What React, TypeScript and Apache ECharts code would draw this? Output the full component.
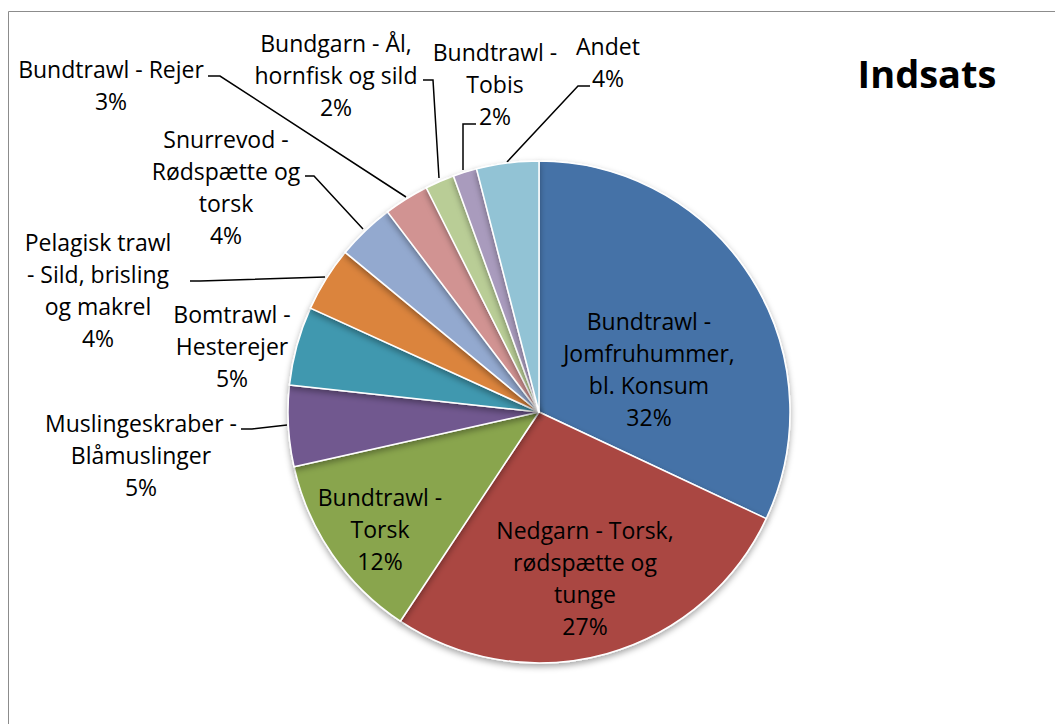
import React, { useEffect, useRef } from "react";
import * as echarts from "echarts";

const categories = [
  "Bundtrawl -\nJomfruhummer,\nbl. Konsum",
  "Nedgarn - Torsk,\nrødspætte og\ntunge",
  "Bundtrawl -\nTorsk",
  "Muslingeskraber -\nBlåmuslinger",
  "Bomtrawl -\nHesterejer",
  "Pelagisk trawl\n- Sild, brisling\nog makrel",
  "Snurrevod -\nRødspætte og\ntorsk",
  "Bundtrawl - Rejer",
  "Bundgarn - Ål,\nhornfisk og sild",
  "Bundtrawl -\nTobis",
  "Andet",
];
const values = [31.98, 27.33, 12.19, 5.2, 5.08, 4.18, 3.72, 2.9, 1.88, 1.53, 4.0];
const colors = [
  "#4572A7", "#AA4643", "#89A54E", "#71588F", "#4198AF", "#DB843D",
  "#93A9CF", "#D19392", "#B9CD96", "#A99BBD", "#92C3D5",
];
const insideCount = 3;

// label block centres (layout only)
const labelPos: number[][] = [
  [649, 369], [585, 578], [380, 529], [141, 455], [232, 346], [98, 290],
  [226, 187], [111, 85], [336, 75], [495, 84], [608, 62],
];
const leaderLines: (number[][] | null)[] = [
  null, null, null,
  [[287, 425], [252, 429], [241, 429]],
  null,
  [[325, 277], [200, 281], [190, 281]],
  [[363, 229], [314, 176], [305, 176]],
  [[406, 197], [220, 76], [208, 76]],
  [[439, 178], [433, 80], [423, 80]],
  [[463, 170], [463, 124], [476, 124]],
  [[507, 162], [578, 86], [590, 86]],
];

const FONT = "'Open Sans', Lato, sans-serif";

export default function App() {
  const ref = useRef<HTMLDivElement>(null);
  useEffect(() => {
    if (!ref.current) return;
    const chart = echarts.init(ref.current, null, { renderer: "svg" });
    const data = categories.map((name, i) => ({
      name,
      value: values[i],
      itemStyle: { color: colors[i] },
      label: i < insideCount ? { position: "inside" } : { position: "outside" },
      labelLine: { show: leaderLines[i] !== null },
    }));
    chart.setOption({
      animation: false,
      backgroundColor: "#fff",
      title: {
        text: "Indsats",
        left: 922,
        top: 68,
        textAlign: "center",
        textVerticalAlign: "middle",
        textStyle: { fontFamily: FONT, fontWeight: "bold", fontSize: 38, color: "#000" },
      },
      graphic: [
        {
          type: "rect",
          silent: true,
          shape: { x: 8.5, y: 11.5, width: 1200, height: 1000 },
          style: { fill: "none", stroke: "#8c8c8c", lineWidth: 1 },
        },
      ],
      series: [
        {
          type: "pie",
          center: [539, 412],
          radius: 251,
          startAngle: 90,
          clockwise: true,
          data,
          itemStyle: {
            borderColor: "#fff",
            borderWidth: 1.5,
            shadowBlur: 6,
            shadowColor: "rgba(0,0,0,0.35)",
            shadowOffsetY: 3,
          },
          label: {
            show: true,
            formatter: (p: any) => `${p.name}\n${Math.round(p.value)}%`,
            fontFamily: FONT,
            fontSize: 23,
            lineHeight: 32,
            color: "#000",
            align: "center",
          },
          labelLine: {
            show: true,
            lineStyle: { color: "#000", width: 1.5 },
            length: 10,
            length2: 10,
          },
          labelLayout: (params: any) => {
            const i = params.dataIndex;
            const res: any = {
              x: labelPos[i][0],
              y: labelPos[i][1],
              align: "center",
              verticalAlign: "middle",
              hideOverlap: false,
              moveOverlap: null,
            };
            if (leaderLines[i]) res.labelLinePoints = leaderLines[i];
            return res;
          },
        },
      ],
    });
    return () => chart.dispose();
  }, []);
  return (
    <div
      ref={ref}
      style={{ position: "absolute", left: 0, top: 0, width: 1055, height: 724 }}
    />
  );
}
